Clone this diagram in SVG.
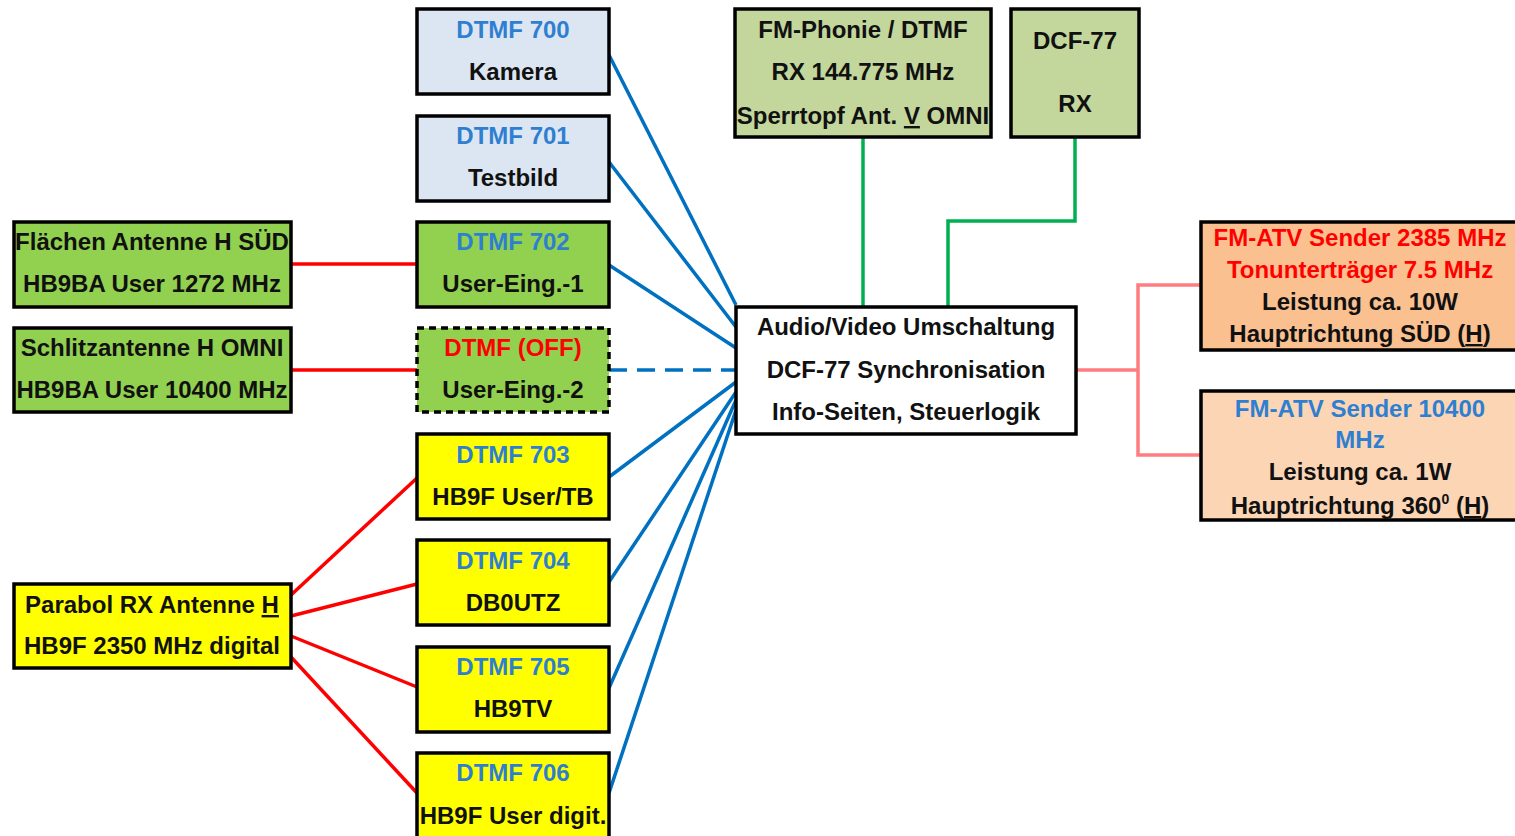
<svg xmlns="http://www.w3.org/2000/svg" width="1515" height="836" viewBox="0 0 1515 836">
<style>
.box{stroke:#000;stroke-width:3.5}
.dash{stroke-dasharray:7 5}
.t{font-family:"Liberation Sans",Arial,sans-serif;font-weight:bold;font-size:24px;text-anchor:middle;fill:#111}
.b{fill:#2F7FD1}
.r{fill:#FF0000}
.blue{stroke:#0070C0;stroke-width:3.5;fill:none}
.green{stroke:#00B050;stroke-width:3.5;fill:none}
.pink{stroke:#FF7C80;stroke-width:3.5;fill:none}
.red{stroke:#FF0000;stroke-width:3.5;fill:none}
.lb{fill:#DCE6F2}.gr{fill:#92D050}.ye{fill:#FFFF00}.ol{fill:#C3D69B}.or1{fill:#FAC090}.or2{fill:#FCD5B5}.wh{fill:#fff}
</style>
<defs>
<clipPath id="cFl"><rect x="14" y="222" width="277" height="85"/></clipPath>
<clipPath id="cSc"><rect x="14" y="328" width="277" height="84"/></clipPath>
<clipPath id="cPa"><rect x="14" y="584" width="277" height="84"/></clipPath>
<clipPath id="cFm"><rect x="735" y="9" width="256" height="128"/></clipPath>
<clipPath id="c706"><rect x="417" y="753" width="192" height="90"/></clipPath>
<clipPath id="cA1"><rect x="1201" y="222" width="320" height="128"/></clipPath>
<clipPath id="cA2"><rect x="1201" y="391" width="320" height="129"/></clipPath>
</defs>
<rect width="1515" height="836" fill="#fff"/>

<g id="connectors">
<line class="blue" x1="609" y1="55" x2="736" y2="305"/>
<line class="blue" x1="609" y1="162" x2="736" y2="327"/>
<line class="blue" x1="609" y1="265" x2="736" y2="348"/>
<line class="blue" x1="609" y1="370" x2="736" y2="370" style="stroke-dasharray:18 10"/>
<line class="blue" x1="609" y1="477" x2="736" y2="382"/>
<line class="blue" x1="609" y1="582" x2="736" y2="392"/>
<line class="blue" x1="609" y1="688" x2="736" y2="400"/>
<line class="blue" x1="609" y1="793" x2="736" y2="410"/>
<line class="green" x1="863" y1="137" x2="863" y2="308"/>
<polyline class="green" points="1075,137 1075,221 948,221 948,308"/>
<polyline class="pink" points="1076,370 1138,370"/>
<polyline class="pink" points="1201,285 1138,285 1138,455 1201,455"/>
<line class="red" x1="291" y1="264" x2="417" y2="264"/>
<line class="red" x1="291" y1="370" x2="417" y2="370"/>
<line class="red" x1="291" y1="595" x2="417" y2="478"/>
<line class="red" x1="291" y1="616" x2="417" y2="584"/>
<line class="red" x1="291" y1="636" x2="417" y2="687"/>
<line class="red" x1="291" y1="657" x2="417" y2="793"/>
</g>

<g id="dtmf700"><rect class="box lb" x="417" y="9" width="192" height="85"/>
<text class="t b" x="513" y="38">DTMF 700</text><text class="t" x="513" y="80">Kamera</text></g>
<g id="dtmf701"><rect class="box lb" x="417" y="116" width="192" height="85"/>
<text class="t b" x="513" y="144">DTMF 701</text><text class="t" x="513" y="186">Testbild</text></g>
<g id="dtmf702"><rect class="box gr" x="417" y="222" width="192" height="85"/>
<text class="t b" x="513" y="250">DTMF 702</text><text class="t" x="513" y="292">User-Eing.-1</text></g>
<g id="dtmfoff"><rect class="box gr dash" x="417" y="328" width="192" height="84"/>
<text class="t r" x="513" y="356">DTMF (OFF)</text><text class="t" x="513" y="398">User-Eing.-2</text></g>
<g id="dtmf703"><rect class="box ye" x="417" y="434" width="192" height="85"/>
<text class="t b" x="513" y="463">DTMF 703</text><text class="t" x="513" y="505">HB9F User/TB</text></g>
<g id="dtmf704"><rect class="box ye" x="417" y="540" width="192" height="85"/>
<text class="t b" x="513" y="569">DTMF 704</text><text class="t" x="513" y="611">DB0UTZ</text></g>
<g id="dtmf705"><rect class="box ye" x="417" y="647" width="192" height="85"/>
<text class="t b" x="513" y="675">DTMF 705</text><text class="t" x="513" y="717">HB9TV</text></g>
<g id="dtmf706"><rect class="box ye" x="417" y="753" width="192" height="95"/>
<g clip-path="url(#c706)"><text class="t b" x="513" y="781">DTMF 706</text><text class="t" x="513" y="824">HB9F User digit.</text></g></g>

<g id="flaechen"><rect class="box gr" x="14" y="222" width="277" height="85"/>
<g clip-path="url(#cFl)"><text class="t" x="152" y="250">Flächen Antenne H SÜD</text><text class="t" x="152" y="292">HB9BA User 1272 MHz</text></g></g>
<g id="schlitz"><rect class="box gr" x="14" y="328" width="277" height="84"/>
<g clip-path="url(#cSc)"><text class="t" x="152" y="356">Schlitzantenne H OMNI</text><text class="t" x="152" y="398">HB9BA User 10400 MHz</text></g></g>
<g id="parabol"><rect class="box ye" x="14" y="584" width="277" height="84"/>
<g clip-path="url(#cPa)"><text class="t" x="152" y="613">Parabol RX Antenne <tspan text-decoration="underline">H</tspan></text><text class="t" x="152" y="654">HB9F 2350 MHz digital</text></g></g>

<g id="fmphonie"><rect class="box ol" x="735" y="9" width="256" height="128"/>
<g clip-path="url(#cFm)"><text class="t" x="863" y="38">FM-Phonie / DTMF</text><text class="t" x="863" y="80">RX 144.775 MHz</text><text class="t" x="863" y="124">Sperrtopf Ant. <tspan text-decoration="underline">V</tspan> OMNI</text></g></g>
<g id="dcf77"><rect class="box ol" x="1011" y="9" width="128" height="128"/>
<text class="t" x="1075" y="49">DCF-77</text><text class="t" x="1075" y="112">RX</text></g>

<g id="central"><rect class="box wh" x="736" y="307" width="340" height="127"/>
<text class="t" x="906" y="335">Audio/Video Umschaltung</text><text class="t" x="906" y="378">DCF-77 Synchronisation</text><text class="t" x="906" y="420">Info-Seiten, Steuerlogik</text></g>

<g id="atv2385"><rect class="box or1" x="1201" y="222" width="330" height="128"/>
<g clip-path="url(#cA1)"><text class="t r" x="1360" y="246">FM-ATV Sender 2385 MHz</text><text class="t r" x="1360" y="278">Tonunterträger 7.5 MHz</text><text class="t" x="1360" y="310">Leistung ca. 10W</text><text class="t" x="1360" y="342">Hauptrichtung SÜD (<tspan text-decoration="underline">H</tspan>)</text></g></g>
<g id="atv10400"><rect class="box or2" x="1201" y="391" width="330" height="129"/>
<g clip-path="url(#cA2)"><text class="t b" x="1360" y="417">FM-ATV Sender 10400</text><text class="t b" x="1360" y="448">MHz</text><text class="t" x="1360" y="480">Leistung ca. 1W</text><text class="t" x="1360" y="514">Hauptrichtung 360<tspan font-size="14" dy="-10">0</tspan><tspan dy="10"> (</tspan><tspan text-decoration="underline">H</tspan>)</text></g></g>
</svg>
